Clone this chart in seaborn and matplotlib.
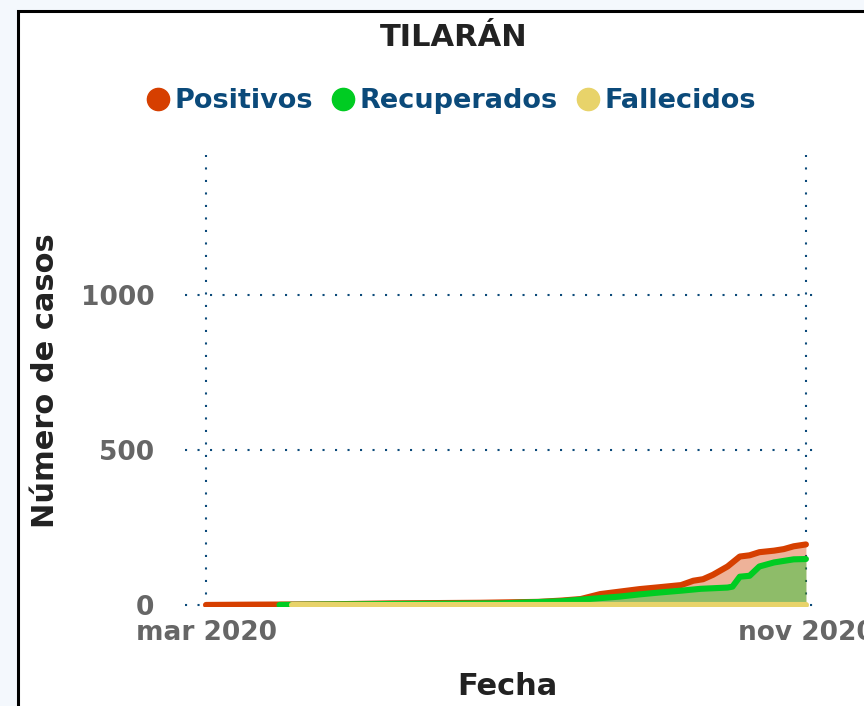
import pandas as pd
import numpy as np
import matplotlib
matplotlib.use('Agg')
import matplotlib.pyplot as plt
from matplotlib.patches import Rectangle
from matplotlib.lines import Line2D
import seaborn as sns

sns.set_style('white')
plt.rcParams['font.family'] = ['DejaVu Sans']

# datos (casos acumulados)
pos_fechas = ['2020-03-01', '2020-03-20', '2020-04-20', '2020-05-15', '2020-06-21',
              '2020-07-15', '2020-07-24', '2020-08-01', '2020-08-09', '2020-08-17',
              '2020-08-25', '2020-09-02', '2020-09-11', '2020-09-16', '2020-09-20',
              '2020-09-24', '2020-09-30', '2020-10-05', '2020-10-09', '2020-10-13',
              '2020-10-19', '2020-10-23', '2020-10-27', '2020-11-01']
pos_valores = [0, 1, 2, 5, 7, 10, 14, 19, 35, 43, 51, 57, 64, 78, 83, 97, 124,
               156, 160, 170, 175, 180, 189, 195]

rec_fechas = ['2020-03-31', '2020-05-15', '2020-06-29', '2020-07-24', '2020-08-09',
              '2020-08-17', '2020-08-25', '2020-09-02', '2020-09-11', '2020-09-19',
              '2020-09-30', '2020-10-02', '2020-10-05', '2020-10-09', '2020-10-13',
              '2020-10-19', '2020-10-23', '2020-10-27', '2020-11-01']
rec_valores = [0, 3, 5, 12, 22, 27, 34, 40, 46, 52, 56, 59, 91, 94, 124, 137,
               142, 147, 148]

fal_fechas = ['2020-04-05', '2020-11-01']
fal_valores = [0, 0]

ticks_x = ['2020-03-01', '2020-11-01']
ticks_x_etiquetas = ['mar 2020', 'nov 2020']
ticks_y = [0, 500, 1000]

rojo = '#d63f00'
verde = '#00cc22'
amarillo = '#e8d36a'
azul = '#0b4a7a'

pos = pd.DataFrame({'fecha': pd.to_datetime(pos_fechas), 'casos': pos_valores})
rec = pd.DataFrame({'fecha': pd.to_datetime(rec_fechas), 'casos': rec_valores})
fal = pd.DataFrame({'fecha': pd.to_datetime(fal_fechas), 'casos': fal_valores})

fig = plt.figure(figsize=(8.64, 7.06), dpi=100, facecolor='#f4f8fd')
# marco blanco con borde negro
fig.add_artist(Rectangle((18 / 864, -0.1), 1.0, 1.0 + 0.1 - 11 / 706,
                         transform=fig.transFigure, facecolor='white',
                         edgecolor='black', linewidth=2.2, zorder=-5))

ax = fig.add_axes([185 / 864, 99.5 / 706, 635 / 864, 451.5 / 706])
ax.set_facecolor('none')

# areas
ax.fill_between(pos['fecha'], pos['casos'], color=rojo, alpha=0.4, linewidth=0)
ax.fill_between(rec['fecha'], rec['casos'], color=verde, alpha=0.4, linewidth=0)

lw = 4.4
sns.lineplot(data=pos, x='fecha', y='casos', ax=ax, color=rojo, linewidth=lw,
             solid_capstyle='round', solid_joinstyle='round')
sns.lineplot(data=rec, x='fecha', y='casos', ax=ax, color=verde, linewidth=lw,
             solid_capstyle='round', solid_joinstyle='round')
sns.lineplot(data=fal, x='fecha', y='casos', ax=ax, color=amarillo, linewidth=lw,
             solid_capstyle='round', solid_joinstyle='round')

ax.set_xlim(pd.Timestamp('2020-02-21 10:00'), pd.Timestamp('2020-11-06 18:00'))
ax.set_ylim(-5, 1450)

ax.set_xticks(pd.to_datetime(ticks_x))
ax.set_xticklabels(ticks_x_etiquetas)
ax.set_yticks(ticks_y)
ax.set_yticklabels([str(v) for v in ticks_y])
ax.tick_params(axis='both', length=0, labelsize=19, labelcolor='#666666')
ax.tick_params(axis='y', pad=22)
ax.tick_params(axis='x', pad=10)
for lab in ax.get_xticklabels() + ax.get_yticklabels():
    lab.set_fontweight('bold')

ax.grid(True, color=azul, linestyle=(0, (1, 5)), linewidth=1.5)
ax.set_axisbelow(True)
for s in ax.spines.values():
    s.set_visible(False)

ax.set_xlabel('Fecha', fontsize=22, fontweight='bold', color='#222222')
ax.set_ylabel('Número de casos', fontsize=22, fontweight='bold', color='#222222')
ax.xaxis.set_label_coords(0.507, -0.144)
ax.yaxis.set_label_coords(-0.197, 0.5)

fig.text(454 / 864, 1 - 37 / 706, 'TILARÁN', ha='center', va='center',
         fontsize=22, fontweight='bold', color='#222222')

handles = [Line2D([], [], marker='o', linestyle='', markersize=16, color=c)
           for c in [rojo, verde, amarillo]]
leg = fig.legend(handles, ['Positivos', 'Recuperados', 'Fallecidos'], ncol=3,
                 loc='center', bbox_to_anchor=(450 / 864, 1 - 101 / 706),
                 frameon=False, handletextpad=0.12, columnspacing=0.6,
                 handlelength=1.0, prop={'size': 19.5, 'weight': 'bold'})
for t in leg.get_texts():
    t.set_color(azul)

plt.savefig('out.png', dpi=100, facecolor=fig.get_facecolor())
